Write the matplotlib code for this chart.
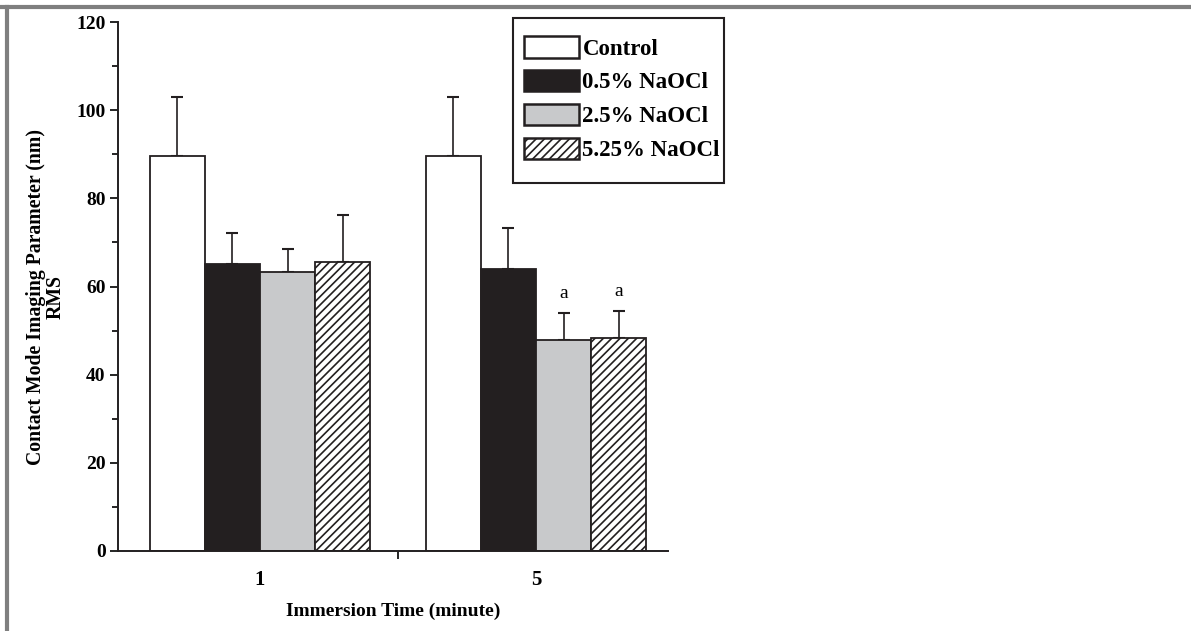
import matplotlib.pyplot as plt
from matplotlib.lines import Line2D
from matplotlib.patches import Patch, Rectangle

# 数据
times = ['1', '5']
groups = ['Control', '0.5% NaOCl', '2.5% NaOCl', '5.25% NaOCl']
means = {
    'Control': [89.5, 89.5],
    '0.5% NaOCl': [65.0, 64.0],
    '2.5% NaOCl': [63.3, 47.8],
    '5.25% NaOCl': [65.6, 48.3],
}
errors = {
    'Control': [13.5, 13.4],
    '0.5% NaOCl': [7.2, 9.2],
    '2.5% NaOCl': [5.2, 6.2],
    '5.25% NaOCl': [10.7, 6.2],
}
sig_marks = {'2.5% NaOCl': ['', 'a'], '5.25% NaOCl': ['', 'a']}

face = {'Control': 'white', '0.5% NaOCl': '#231f20',
        '2.5% NaOCl': '#c8c9cb', '5.25% NaOCl': 'white'}
hatch = {'Control': '', '0.5% NaOCl': '', '2.5% NaOCl': '', '5.25% NaOCl': '////'}

plt.rcParams['font.family'] = ['Liberation Serif', 'DejaVu Serif']
plt.rcParams['font.weight'] = 'bold'
plt.rcParams['hatch.linewidth'] = 1.2

fig = plt.figure(figsize=(11.91, 6.31), dpi=100)
ax = fig.add_axes([0.0991, 0.1268, 0.4618, 0.8383])

w = 0.2
x = [0, 1]
for i, g in enumerate(groups):
    pos = [xi + (i - 1.5) * w for xi in x]
    ax.bar(pos, means[g], width=w, color=face[g], edgecolor='#231f20',
           linewidth=1.3, hatch=hatch[g], zorder=2)
    ax.errorbar(pos, means[g], yerr=[[0, 0], errors[g]], fmt='none',
                ecolor='#231f20', elinewidth=1.2, capsize=4, capthick=1.5,
                zorder=1)
    if g in sig_marks:
        for p, m, e, s in zip(pos, means[g], errors[g], sig_marks[g]):
            if s:
                ax.text(p, m + e + 2.5, s, ha='center', va='bottom',
                        fontsize=14, fontweight='normal')

ax.set_xlim(-0.514, 1.478)
ax.set_ylim(0, 120)
ax.set_yticks(range(0, 121, 20))
ax.set_yticks(range(10, 120, 20), minor=True)
ax.set_xticks(x)
ax.set_xticklabels(times)
ax.set_xticks([0.5], minor=True)
ax.tick_params(axis='x', which='major', length=0, pad=14, labelsize=15)
ax.tick_params(axis='x', which='minor', length=6, width=1.2, direction='out')
ax.tick_params(axis='y', which='major', length=6, width=1.2, labelsize=14, pad=3)
ax.tick_params(axis='y', which='minor', length=4, width=1.2)

for s in ['top', 'right']:
    ax.spines[s].set_visible(False)
for s in ['left', 'bottom']:
    ax.spines[s].set_linewidth(1.4)
    ax.spines[s].set_color('#231f20')

ax.set_xlabel('Immersion Time (minute)', fontsize=14, fontweight='bold',
              labelpad=9)
ax.set_ylabel('Contact Mode Imaging Parameter (nm)\nRMS', fontsize=14.2,
              fontweight='bold', linespacing=1.0)
ax.yaxis.set_label_coords(-0.095, 0.48)

# 图例（无边框，稍后手动画框以获得上下更大的留白）
handles = [Patch(facecolor=face[g], edgecolor='#231f20', hatch=hatch[g],
                 linewidth=1.8) for g in groups]
leg = ax.legend(handles, groups, loc='upper right',
                bbox_to_anchor=(0.6045, 0.9425), bbox_transform=fig.transFigure,
                borderaxespad=0, frameon=False,
                handlelength=2.4, handleheight=1.05, handletextpad=0.15,
                labelspacing=0.45, borderpad=0.0,
                prop={'weight': 'bold', 'size': 16.5})

fig.canvas.draw()
bb = leg.get_window_extent().transformed(fig.transFigure.inverted())
pad_x, pad_top, pad_bot = 11 / 1191, 18 / 631, 22 / 631
frame = Rectangle((bb.x0 - pad_x, bb.y0 - pad_bot),
                  bb.width + 2 * pad_x - 7 / 1191, bb.height + pad_top + pad_bot,
                  transform=fig.transFigure, facecolor='white',
                  edgecolor='#231f20', linewidth=1.5, zorder=4)
fig.add_artist(frame)
leg.set_zorder(5)
fig.add_artist(leg)

# 外框灰线
fig.add_artist(Line2D([0, 1], [0.989, 0.989], color='#7f7f7f', lw=3,
                      transform=fig.transFigure))
fig.add_artist(Line2D([0.006, 0.006], [0, 0.989], color='#7f7f7f', lw=3,
                      transform=fig.transFigure))

fig.savefig('out.png', dpi=100)
plt.close(fig)
